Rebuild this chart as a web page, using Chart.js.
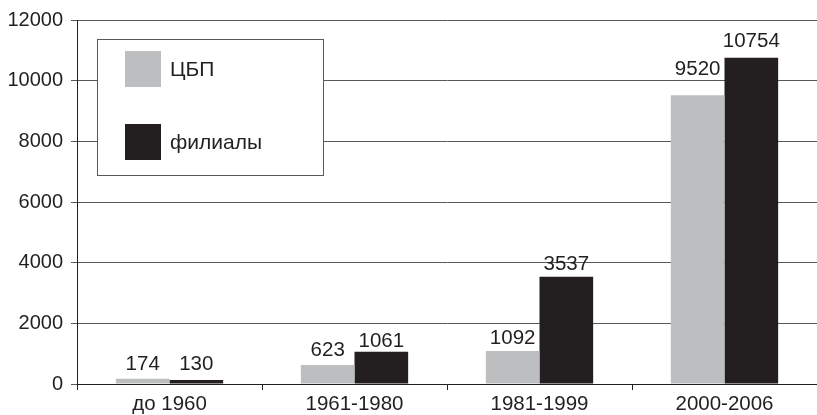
<!DOCTYPE html>
<html>
<head>
<meta charset="utf-8">
<script src="https://cdn.jsdelivr.net/npm/chart.js@4.4.1/dist/chart.umd.min.js"></script>
<style>
  body { margin: 0; background: #fff; }
  #wrap { width: 817px; height: 415px; position: relative; }
</style>
</head>
<body>
<div id="wrap"><canvas id="cbs_chart"></canvas></div>
<script>
var periods = ["до 1960", "1961-1980", "1981-1999", "2000-2006"];
var cbp_values = [174, 623, 1092, 9520];
var branch_values = [130, 1061, 3537, 10754];
var y_ticks = [0, 2000, 4000, 6000, 8000, 10000, 12000];

var ink = '#231f20';
var font_family = '"Liberation Sans", Arial, sans-serif';
// gap (px) between each value label and the top of its bar, per dataset
var label_gaps = [[9, 9, 7, 20], [10, 5, 7, 11]];

// numbers over the bars
var bar_labels = {
    id: 'bar_labels',
    afterDatasetsDraw: function(chart) {
        var ctx = chart.ctx;
        ctx.save();
        ctx.font = '20.5px ' + font_family;
        ctx.fillStyle = ink;
        ctx.textAlign = 'center';
        ctx.textBaseline = 'alphabetic';
        chart.data.datasets.forEach(function(ds, i) {
            chart.getDatasetMeta(i).data.forEach(function(bar, j) {
                ctx.fillText(String(ds.data[j]), bar.x, bar.y - label_gaps[i][j]);
            });
        });
        ctx.restore();
    }
};

// boxed legend inside the plot
var box_legend = {
    id: 'box_legend',
    afterDraw: function(chart) {
        var ctx = chart.ctx;
        var a = chart.chartArea;
        var x = a.left + 20, y = a.top + 19;
        ctx.save();
        ctx.fillStyle = '#fff';
        ctx.fillRect(x, y, 226, 136);
        ctx.strokeStyle = '#58595b';
        ctx.lineWidth = 1;
        ctx.strokeRect(x + 0.5, y + 0.5, 226, 136);
        ctx.font = '21px ' + font_family;
        ctx.textBaseline = 'middle';
        chart.data.datasets.forEach(function(ds, i) {
            var sy = y + 12 + i * 73;
            ctx.fillStyle = ds.backgroundColor;
            ctx.fillRect(x + 28, sy, 36, 36);
            ctx.fillStyle = ink;
            ctx.fillText(ds.label, x + 73, sy + 19);
        });
        ctx.restore();
    }
};

var cntxt = document.getElementById("cbs_chart").getContext('2d');
var cbs_chart = new Chart(cntxt, {
    type: 'bar',
    data: {
        labels: periods,
        datasets: [{
            label: 'ЦБП',
            data: cbp_values,
            backgroundColor: '#bcbec0',
            borderWidth: 0
        }, {
            label: 'филиалы',
            data: branch_values,
            backgroundColor: ink,
            borderWidth: 0
        }]
    },
    options: {
        responsive: true,
        maintainAspectRatio: false,
        animation: false,
        layout: { padding: { top: 20, right: 0, left: 0, bottom: 0 } },
        datasets: { bar: { categoryPercentage: 0.58, barPercentage: 1.0 } },
        plugins: {
            legend: { display: false },
            tooltip: { enabled: false }
        },
        scales: {
            x: {
                afterFit: function(s) { s.height = 31; },
                grid: { offset: true, drawOnChartArea: false, drawTicks: true, tickLength: 6, color: ink },
                border: { color: ink, width: 1 },
                ticks: { color: ink, font: { family: font_family, size: 20.5 }, padding: 2 }
            },
            y: {
                min: 0,
                max: 12000,
                afterFit: function(s) { s.width = 77; },
                afterBuildTicks: function(s) { s.ticks = y_ticks.map(function(v) { return { value: v }; }); },
                grid: { color: '#58595b', lineWidth: 1, tickLength: 6 },
                border: { color: ink, width: 1 },
                ticks: {
                    color: ink,
                    font: { family: font_family, size: 20 },
                    padding: 8,
                    callback: function(v) { return String(v); }
                }
            }
        }
    },
    plugins: [bar_labels, box_legend]
});
</script>
</body>
</html>
